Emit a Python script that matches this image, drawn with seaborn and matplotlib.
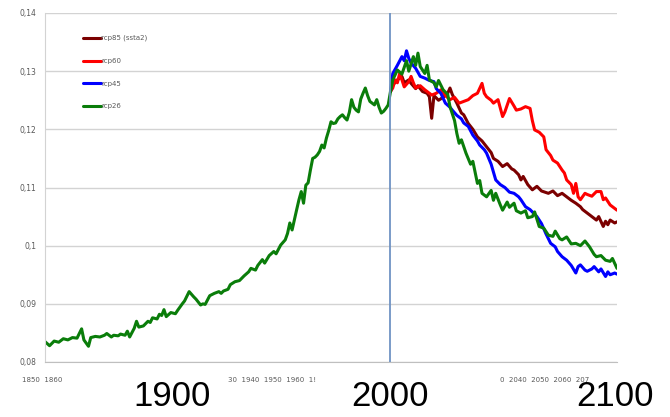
import matplotlib
matplotlib.use("Agg")
import matplotlib.pyplot as plt
import seaborn as sns

# historical run (green up to the projection start)
hist_years = [1850, 1852, 1854, 1856, 1858, 1860, 1862, 1864, 1866, 1867, 1869, 1870, 1872, 1874,
              1876, 1877, 1879, 1880, 1882, 1883, 1885, 1886, 1887, 1889, 1890, 1891, 1893, 1895,
              1896, 1897, 1899, 1900, 1901, 1902, 1903, 1905, 1907, 1908, 1910, 1911, 1913, 1915,
              1916, 1918, 1919, 1920, 1922, 1924, 1926, 1927, 1928, 1930, 1931, 1933, 1935, 1937,
              1939, 1940, 1942, 1943, 1945, 1946, 1948, 1950, 1951, 1953, 1955, 1956, 1957, 1958,
              1960, 1961, 1962, 1963, 1964, 1965, 1966, 1967, 1968, 1969, 1970, 1971, 1972, 1973,
              1974, 1975, 1976, 1977, 1978, 1979, 1980, 1981, 1982, 1983, 1984, 1985, 1986, 1987,
              1988, 1989, 1990, 1991, 1992, 1993, 1994, 1995, 1996, 1997, 1998, 1999, 2000, 2001]
hist_vals = [0.0835, 0.0828, 0.0836, 0.0834, 0.0840, 0.0838, 0.0842, 0.0841, 0.0857, 0.0838, 0.0827,
             0.0842, 0.0844, 0.0843, 0.0846, 0.0849, 0.0843, 0.0846, 0.0845, 0.0848, 0.0846, 0.0853,
             0.0843, 0.0858, 0.0870, 0.0860, 0.0862, 0.0870, 0.0868, 0.0876, 0.0874, 0.0882, 0.0880,
             0.0890, 0.0878, 0.0885, 0.0883, 0.0889, 0.0900, 0.0905, 0.0921, 0.0912, 0.0908, 0.0898,
             0.0900, 0.0899, 0.0914, 0.0918, 0.0921, 0.0918, 0.0922, 0.0925, 0.0933, 0.0938, 0.0940,
             0.0948, 0.0955, 0.0961, 0.0958, 0.0966, 0.0976, 0.0970, 0.0983, 0.0990, 0.0986, 0.1001,
             0.1010, 0.1021, 0.1039, 0.1027, 0.1062, 0.1079, 0.1093, 0.1073, 0.1104, 0.1108, 0.1130,
             0.1150, 0.1152, 0.1156, 0.1162, 0.1173, 0.1168, 0.1185, 0.1198, 0.1213, 0.1210, 0.1211,
             0.1218, 0.1222, 0.1225, 0.1220, 0.1216, 0.1229, 0.1251, 0.1238, 0.1233, 0.1230, 0.1252,
             0.1262, 0.1271, 0.1258, 0.1248, 0.1245, 0.1242, 0.1251, 0.1238, 0.1228, 0.1231, 0.1236,
             0.1242, 0.1265]

rcp85_years = [2001, 2002, 2004, 2006, 2007, 2009, 2010, 2012, 2013, 2015, 2017, 2018, 2019, 2020,
               2022, 2024, 2026, 2027, 2028, 2030, 2032, 2033, 2035, 2037, 2039, 2041, 2043, 2045,
               2046, 2048, 2050, 2052, 2054, 2055, 2057, 2058, 2059, 2061, 2063, 2065, 2067, 2070,
               2072, 2074, 2076, 2078, 2080, 2082, 2084, 2085, 2087, 2089, 2091, 2092, 2094, 2095,
               2096, 2097, 2099, 2100]
rcp85_vals = [0.1265, 0.1276, 0.1285, 0.1291, 0.1280, 0.1285, 0.1279, 0.1270, 0.1275, 0.1265, 0.1262,
              0.1256, 0.1219, 0.1258, 0.1250, 0.1255, 0.1262, 0.1271, 0.1260, 0.1245, 0.1228, 0.1225,
              0.1210, 0.1200, 0.1187, 0.1180, 0.1170, 0.1160, 0.1150, 0.1145, 0.1136, 0.1141, 0.1132,
              0.1130, 0.1122, 0.1113, 0.1119, 0.1105, 0.1096, 0.1102, 0.1094, 0.1090, 0.1094, 0.1086,
              0.1090, 0.1084, 0.1078, 0.1073, 0.1067, 0.1062, 0.1056, 0.1050, 0.1044, 0.1050, 0.1033,
              0.1042, 0.1036, 0.1044, 0.1039, 0.1041]

rcp60_years = [2001, 2002, 2003, 2004, 2005, 2006, 2007, 2009, 2010, 2011, 2012, 2014, 2016, 2018,
               2019, 2021, 2023, 2025, 2027, 2029, 2031, 2033, 2035, 2037, 2039, 2041, 2042, 2043,
               2045, 2046, 2048, 2050, 2051, 2053, 2055, 2056, 2058, 2060, 2062, 2063, 2064, 2066,
               2068, 2069, 2071, 2072, 2074, 2076, 2077, 2078, 2080, 2081, 2082, 2083, 2084, 2086,
               2087, 2089, 2091, 2093, 2094, 2095, 2097, 2098, 2100]
rcp60_vals = [0.1265, 0.1271, 0.1285, 0.1280, 0.1296, 0.1285, 0.1273, 0.1282, 0.1291, 0.1280, 0.1271,
              0.1275, 0.1268, 0.1262, 0.1259, 0.1262, 0.1268, 0.1258, 0.1251, 0.1255, 0.1245, 0.1248,
              0.1251, 0.1258, 0.1262, 0.1279, 0.1262, 0.1256, 0.1250, 0.1245, 0.1251, 0.1222, 0.1230,
              0.1253, 0.1240, 0.1233, 0.1235, 0.1239, 0.1236, 0.1215, 0.1199, 0.1195, 0.1187, 0.1165,
              0.1155, 0.1147, 0.1142, 0.1130, 0.1125, 0.1113, 0.1105, 0.1090, 0.1107, 0.1084, 0.1079,
              0.1090, 0.1088, 0.1085, 0.1093, 0.1093, 0.1079, 0.1082, 0.1070, 0.1067, 0.1061]

rcp45_years = [2001, 2002, 2004, 2006, 2007, 2008, 2009, 2010, 2012, 2014, 2016, 2018, 2020, 2021,
               2023, 2025, 2027, 2028, 2030, 2032, 2033, 2035, 2037, 2039, 2040, 2042, 2043, 2045,
               2047, 2049, 2051, 2053, 2055, 2057, 2058, 2060, 2062, 2063, 2065, 2067, 2069, 2071,
               2073, 2074, 2076, 2078, 2080, 2082, 2083, 2084, 2086, 2087, 2089, 2090, 2092, 2093,
               2095, 2096, 2097, 2099, 2100]
rcp45_vals = [0.1265, 0.1296, 0.1310, 0.1325, 0.1318, 0.1335, 0.1322, 0.1314, 0.1305, 0.1291, 0.1288,
              0.1284, 0.1282, 0.1270, 0.1262, 0.1245, 0.1238, 0.1233, 0.1224, 0.1218, 0.1211, 0.1205,
              0.1190, 0.1180, 0.1173, 0.1165, 0.1159, 0.1140, 0.1113, 0.1105, 0.1100, 0.1092, 0.1090,
              0.1084, 0.1079, 0.1067, 0.1062, 0.1058, 0.1050, 0.1038, 0.1020, 0.1004, 0.0998, 0.0990,
              0.0981, 0.0975, 0.0966, 0.0953, 0.0964, 0.0967, 0.0958, 0.0956, 0.0960, 0.0964, 0.0955,
              0.0960, 0.0947, 0.0955, 0.0950, 0.0953, 0.0951]

rcp26_years = [2001, 2002, 2004, 2006, 2008, 2009, 2011, 2012, 2013, 2014, 2016, 2017, 2018, 2020,
               2021, 2022, 2024, 2026, 2027, 2029, 2030, 2031, 2032, 2034, 2036, 2037, 2039, 2040,
               2041, 2043, 2045, 2046, 2047, 2049, 2050, 2052, 2053, 2055, 2056, 2058, 2060, 2061,
               2063, 2064, 2066, 2068, 2070, 2072, 2073, 2075, 2076, 2078, 2080, 2082, 2084, 2086,
               2088, 2090, 2091, 2093, 2095, 2097, 2098, 2100]
rcp26_vals = [0.1265, 0.1285, 0.1302, 0.1295, 0.1318, 0.1300, 0.1325, 0.1310, 0.1331, 0.1308, 0.1296,
              0.1310, 0.1285, 0.1280, 0.1273, 0.1284, 0.1268, 0.1260, 0.1239, 0.1215, 0.1193, 0.1176,
              0.1182, 0.1159, 0.1140, 0.1145, 0.1107, 0.1112, 0.1090, 0.1084, 0.1095, 0.1078, 0.1090,
              0.1070, 0.1061, 0.1075, 0.1066, 0.1073, 0.1060, 0.1056, 0.1060, 0.1048, 0.1050, 0.1058,
              0.1033, 0.1030, 0.1018, 0.1016, 0.1025, 0.1012, 0.1010, 0.1015, 0.1003, 0.1004, 0.1000,
              0.1008, 0.0998, 0.0985, 0.0981, 0.0983, 0.0975, 0.0973, 0.0978, 0.0961]

y_ticks = [0.08, 0.09, 0.10, 0.11, 0.12, 0.13, 0.14]
y_tick_labels = ["0,08", "0,09", "0,1", "0,11", "0,12", "0,13", "0,14"]
proj_start = 2001

sns.set_style("white")
plt.rcParams['font.family'] = ['DejaVu Sans']

fig = plt.figure(figsize=(6.7, 4.17), dpi=100)
ax = fig.add_axes([45 / 670, 55 / 417, 572 / 670, 349 / 417])

lw = 2.2
sns.lineplot(x=rcp85_years, y=rcp85_vals, color="#7b0000", linewidth=lw, label="rcp85 (ssta2)", ax=ax)
sns.lineplot(x=rcp60_years, y=rcp60_vals, color="#ff0000", linewidth=lw, label="rcp60", ax=ax)
sns.lineplot(x=rcp45_years, y=rcp45_vals, color="#0000ff", linewidth=lw, label="rcp45", ax=ax)
sns.lineplot(x=rcp26_years, y=rcp26_vals, color="#0a7d0a", linewidth=lw, label="rcp26", ax=ax)
sns.lineplot(x=hist_years, y=hist_vals, color="#0a7d0a", linewidth=lw, ax=ax, legend=False)

ax.axvline(proj_start, color="#6f93c4", linewidth=1.3, zorder=5)

ax.set_xlim(1850, 2100)
ax.set_ylim(0.08, 0.14)
ax.set_yticks(y_ticks)
ax.set_yticklabels(y_tick_labels, fontsize=5.5, color="#595959")
ax.set_xticks(range(1850, 2101, 8))
ax.set_xticklabels([])
ax.grid(axis="y", color="#d3d3d3", linewidth=1)
ax.grid(axis="x", visible=False)
ax.tick_params(axis="x", length=3, color="#bfbfbf", direction="out")
ax.tick_params(axis="y", length=0, pad=6)
for s in ["top", "right"]:
    ax.spines[s].set_visible(False)
ax.spines["left"].set_color("#d3d3d3")
ax.spines["bottom"].set_color("#bfbfbf")
ax.set_xlabel("")
ax.set_ylabel("")

ax.legend(loc="upper left", bbox_to_anchor=(0.055, 0.955), frameon=False, fontsize=5,
          handlelength=2.6, handletextpad=0.1, labelspacing=2.4, labelcolor="#595959")

# small leftover excel category labels
small = dict(fontsize=5, color="#595959", ha="left", va="center")
fig.text(22 / 670, 1 - 380 / 417, "1850  1860", **small)
fig.text(228 / 670, 1 - 380 / 417, "30  1940  1950  1960  1!", **small)
fig.text(500 / 670, 1 - 380 / 417, "0  2040  2050  2060  207", **small)

# big overlaid decade labels
big = dict(fontsize=25, color="black", ha="center", va="center", family="Liberation Sans")
fig.text(172 / 670, 1 - 397 / 417, "1900", **big)
fig.text(390 / 670, 1 - 397 / 417, "2000", **big)
fig.text(615 / 670, 1 - 397 / 417, "2100", **big)

fig.savefig("out.png", dpi=100)
